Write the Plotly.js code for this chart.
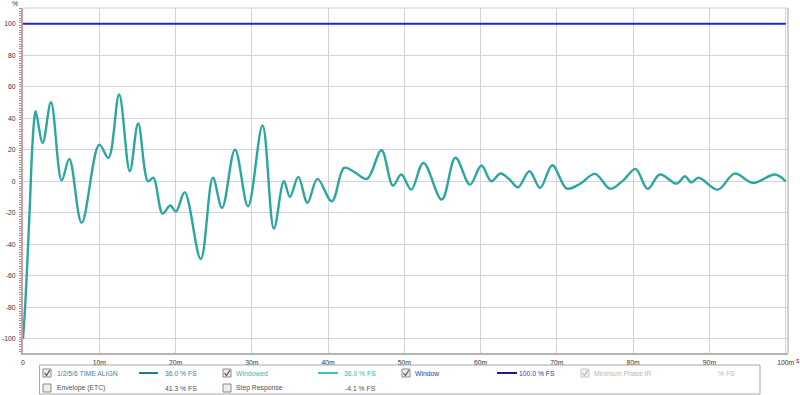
<!DOCTYPE html>
<html><head><meta charset="utf-8">
<script src="https://cdn.plot.ly/plotly-3.0.1.min.js"></script>
<style>html,body{margin:0;padding:0;background:#fff}#chart{width:800px;height:395px}</style>
</head><body><div id="chart"></div>
<script>
// ---- data ----
const timeMs = [0,0.3,0.6,0.9,1.2,1.45,1.66,2.58,3.67,5.07,6.07,7.69,10.0,11.2,12.6,14.0,15.1,16.4,17.1,18.3,19.3,20.05,21.2,23.3,24.9,26.1,27.8,29.5,31.4,32.9,34.2,35.0,36.1,37.3,38.6,40.5,42.1,43.5,45.1,47.0,48.5,49.6,50.9,52.5,54.9,56.7,58.6,60.1,61.4,62.6,63.8,64.9,66.4,67.8,69.4,71.3,73.0,75.0,77.0,78.7,80.3,81.9,83.5,85.7,86.8,87.6,88.6,91.1,93.3,95.7,98.6,100];
const stepPct = [-100,-78,-48,-15,20,38,44.5,24.4,50.2,0.6,14.2,-26.4,23.3,14.9,55.1,6.4,36.7,0,2.2,-20.5,-15.4,-19.2,-7,-49.3,2.2,-16.9,20.1,-15.9,35.4,-30,0,-9.9,2.8,-13.7,1.5,-12.7,8.5,5.7,1.5,19.7,-2.7,4.3,-5.3,11.7,-11.6,14.9,-2.1,10,0,4.9,1.1,-3.8,6.4,-4.2,10.2,-4.6,-1.7,4.7,-4.8,0.6,7.9,-4.8,4.3,-1.5,3.2,-0.6,2.2,-5.3,4.9,-1,4.3,0];
const windowX = [0,100];
const windowPct = [100,100];
const xTickVals = [0,10,20,30,40,50,60,70,80,90,100];
const xTickText = ["0","10m","20m","30m","40m","50m","60m","70m","80m","90m","100m"];
const yTickVals = [-100,-80,-60,-40,-20,0,20,40,60,80,100];
const yTickText = ["-100","-80","-60","-40","-20","0","20","40","60","80","100"];
// legend panel contents
const legNames  = ["1/2/5/6 TIME ALIGN","Windowed","Window","Minimum Phase IR","Envelope (ETC)","Step Response"];
const legValues = ["36.0 % FS","36.0 % FS","100.0 % FS","% FS","41.3 % FS","-4.1 % FS"];
const legChecked = [true,true,true,true,false,false];

// ---- layout helpers (pixel -> paper) ----
const L=23, R=788, T=8, B=353;
const px = p => (p-L)/(R-L);
const py = p => (B-p)/(B-T);
const FONT = "Liberation Sans, Arial, sans-serif";
const FS = 6.8;

const shapes = [], annotations = [];
// legend box
shapes.push({type:'rect',xref:'paper',yref:'paper',x0:px(39.5),x1:px(760),y0:py(365),y1:py(394),line:{color:'#a8a8a8',width:1},fillcolor:'rgba(0,0,0,0)'});
const cols = [
 {cb:47, name:55, line:[139,158], val:199, lineColor:'#1f7d85', nameColor:'#3f7f9f'},
 {cb:227, name:234, line:[318,338], val:378, lineColor:'#3cc0c0', nameColor:'#3ab4b4'},
 {cb:406, name:413, line:[497,517], val:557, lineColor:'#1c1c8c', nameColor:'#3434a8'},
 {cb:585, name:592, line:null, val:737, lineColor:null, nameColor:'#b8b8b8'}
];
const slots = [[0,373],[1,373],[2,373],[3,373],[0,388],[1,388]];
slots.forEach((s,i)=>{
  const c = cols[s[0]], y = s[1];
  const disabled = (i===3);
  shapes.push({type:'rect',xref:'paper',yref:'paper',x0:px(c.cb-4),x1:px(c.cb+4),y0:py(y-4),y1:py(y+4),
    line:{color:disabled?'#c8c8c8':'#8a8a8a',width:1},fillcolor:disabled?'#f2f2f2':'#eeeeee'});
  if(legChecked[i]){
    shapes.push({type:'path',xref:'paper',yref:'paper',
      path:`M ${px(c.cb-2.5)} ${py(y)} L ${px(c.cb-0.5)} ${py(y+2.5)} L ${px(c.cb+2.8)} ${py(y-2.8)}`,
      line:{color:disabled?'#b8b8b8':'#505050',width:1.2}});
  }
  const nameColor = s[1]===388 ? '#505050' : c.nameColor;
  annotations.push({xref:'paper',yref:'paper',x:px(c.name),y:py(y),xanchor:'left',yanchor:'middle',showarrow:false,
    text:legNames[i],font:{family:FONT,size:FS,color:nameColor}});
  annotations.push({xref:'paper',yref:'paper',x:px(c.val),y:py(y),xanchor:'right',yanchor:'middle',showarrow:false,
    text:legValues[i],font:{family:FONT,size:FS,color:disabled?'#b8b8b8':(s[1]===388?'#505050':c.nameColor)}});
  if(c.line && s[1]===373){
    shapes.push({type:'line',xref:'paper',yref:'paper',x0:px(c.line[0]),x1:px(c.line[1]),y0:py(y),y1:py(y),line:{color:c.lineColor,width:2}});
  }
});
// axis unit labels
annotations.push({xref:'paper',yref:'paper',x:px(15),y:py(4),xanchor:'center',yanchor:'middle',showarrow:false,text:'%',font:{family:FONT,size:FS,color:'#333'}});
annotations.push({xref:'paper',yref:'paper',x:px(797.5),y:py(360),xanchor:'center',yanchor:'middle',showarrow:false,text:'s',font:{family:FONT,size:FS,color:'#333'}});

const traces = [
  {x:windowX,y:windowPct,mode:'lines',line:{color:'#2424c0',width:2},hoverinfo:'skip'},
  {x:timeMs,y:stepPct,mode:'lines',line:{color:'#2ba6a0',width:2.4,shape:'spline',smoothing:1},hoverinfo:'skip'}
];

const layout = {
  width:800,height:395,
  margin:{l:L,r:800-R,t:T,b:395-B,pad:0},
  paper_bgcolor:'#ffffff',plot_bgcolor:'#ffffff',
  showlegend:false,
  font:{family:FONT,size:FS,color:'#333'},
  xaxis:{range:[0,100.3],tickvals:xTickVals,ticktext:xTickText,showgrid:true,gridcolor:'#d4d4d4',gridwidth:1,
    zeroline:false,showline:true,linecolor:'#b4b4b4',linewidth:2,mirror:false,ticks:'',ticklabelstandoff:2,
    tickfont:{family:FONT,size:FS,color:'#333'}},
  yaxis:{range:[-109,110],tickvals:yTickVals,ticktext:yTickText,showgrid:true,gridcolor:'#d4d4d4',gridwidth:1,
    zeroline:false,showline:true,linecolor:'#c4a0a0',linewidth:2,mirror:false,ticks:'',ticklen:0,ticklabelstandoff:4,
    tickfont:{family:FONT,size:FS,color:'#333'},
    minor:{dtick:1.5,ticks:'outside',ticklen:2,tickcolor:'#b08888',tickwidth:1,showgrid:false}},
  shapes:shapes,annotations:annotations
};
layout.shapes.push({type:'line',xref:'paper',yref:'paper',x0:1,x1:1,y0:0,y1:1,line:{color:'#a0a0a0',width:1}});
layout.shapes.push({type:'line',xref:'paper',yref:'paper',x0:0,x1:1,y0:1,y1:1,line:{color:'#d0d0d0',width:1}});
Plotly.newPlot('chart',traces,layout,{staticPlot:true,displayModeBar:false});
</script></body></html>
